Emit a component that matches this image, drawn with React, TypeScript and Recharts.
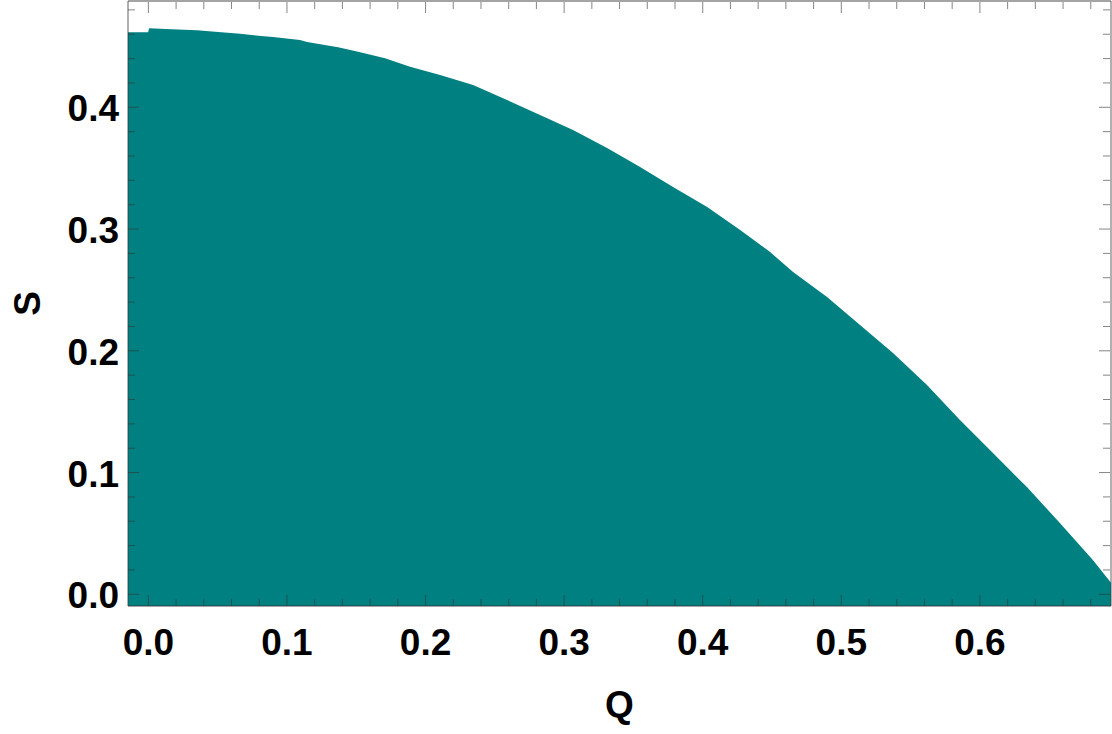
import { AreaChart, Area, XAxis, YAxis } from "recharts";

// upper boundary of the shaded region
const qValues = [
  -0.0147, -0.0002, 0.0005, 0.0164, 0.0351, 0.0481, 0.0662, 0.0791, 0.09, 0.1094, 0.1145,
  0.1369, 0.1513, 0.1708, 0.1888, 0.2105, 0.2343, 0.2588, 0.2826, 0.3064, 0.331, 0.3548,
  0.3786, 0.4032, 0.427, 0.4486, 0.4652, 0.4897, 0.5135, 0.5373, 0.5618, 0.5856, 0.6094,
  0.6339, 0.6577, 0.6815, 0.6946,
];
const sValues = [
  0.4616, 0.4616, 0.4649, 0.4641, 0.4632, 0.4621, 0.4604, 0.4588, 0.4577, 0.4553, 0.4537,
  0.4493, 0.4457, 0.4402, 0.4333, 0.4265, 0.4183, 0.406, 0.3937, 0.3814, 0.3666, 0.351,
  0.3345, 0.3181, 0.2992, 0.2811, 0.2647, 0.2442, 0.2212, 0.1982, 0.1719, 0.1431, 0.116,
  0.0881, 0.0586, 0.0282, 0.0095,
];

const qDomain = [-0.0147, 0.6946];
const sDomain = [-0.0096, 0.4873];

const qMajorTicks = [0, 0.1, 0.2, 0.3, 0.4, 0.5, 0.6];
const qMinorTicks = [
  0.02, 0.04, 0.06, 0.08, 0.12, 0.14, 0.16, 0.18, 0.22, 0.24, 0.26, 0.28, 0.32, 0.34,
  0.36, 0.38, 0.42, 0.44, 0.46, 0.48, 0.52, 0.54, 0.56, 0.58, 0.62, 0.64, 0.66, 0.68,
];
const sMajorTicks = [0, 0.1, 0.2, 0.3, 0.4];
const sMinorTicks = [
  0.02, 0.04, 0.06, 0.08, 0.12, 0.14, 0.16, 0.18, 0.22, 0.24, 0.26, 0.28, 0.32, 0.34,
  0.36, 0.38, 0.42, 0.44, 0.46, 0.48,
];

const data = qValues.map((q, i) => ({ q, s: sValues[i] }));
const qTicks = [...qMajorTicks, ...qMinorTicks].sort((a, b) => a - b);
const sTicks = [...sMajorTicks, ...sMinorTicks].sort((a, b) => a - b);

const FONT = "'Liberation Sans', Arial, Helvetica, sans-serif";
const TEAL = "#008080";
const FRAME = { stroke: "#333", strokeOpacity: 0.6, strokeWidth: 1.3 };

const isMajor = (v: number, majors: number[]) => majors.some((m) => Math.abs(m - v) < 1e-6);

// Mathematica-like frame tick: short line inside the frame, label outside
function FrameTick(props: any) {
  const { x, y, payload, side } = props;
  const v = payload.value as number;
  const horizontal = side === "bottom" || side === "top";
  const major = isMajor(v, horizontal ? qMajorTicks : sMajorTicks);
  const len = major ? 11 : 7;
  let x1 = x;
  let y1 = y;
  // the top / right axes are 1px bands, start the tick on the frame itself
  if (side === "top") y1 = y + 1;
  if (side === "right") x1 = x - 1;
  let x2 = x1;
  let y2 = y1;
  if (side === "bottom") y2 = y1 - len;
  if (side === "top") y2 = y1 + len;
  if (side === "left") x2 = x1 + len;
  if (side === "right") x2 = x1 - len;
  const showLabel = major && (side === "bottom" || side === "left");
  return (
    <g>
      <line x1={x1} y1={y1} x2={x2} y2={y2} stroke="#333" strokeOpacity={0.6} strokeWidth={1} />
      {showLabel && (
        <text
          x={side === "bottom" ? x : x - 9}
          y={side === "bottom" ? y + 49 : y + 14}
          textAnchor={side === "bottom" ? "middle" : "end"}
          fontFamily={FONT}
          fontWeight="bold"
          fontSize={37}
          fill="#000"
        >
          {v.toFixed(1)}
        </text>
      )}
    </g>
  );
}

export default function App() {
  return (
    <div style={{ width: 1112, height: 734 }}>
      <style>{"body{margin:0}"}</style>
      <AreaChart width={1112} height={734} data={data} margin={{ top: 0, right: 0, left: 0, bottom: 0 }}>
        <Area
          type="linear"
          dataKey="s"
          stroke="none"
          fill={TEAL}
          fillOpacity={1}
          baseValue="dataMin"
          dot={false}
          activeDot={false}
          isAnimationActive={false}
        />
        <XAxis
          dataKey="q"
          type="number"
          domain={qDomain}
          allowDataOverflow
          ticks={qTicks}
          interval={0}
          height={128}
          tickSize={0}
          tickMargin={0}
          tickLine={false}
          axisLine={FRAME}
          tick={(p: any) => <FrameTick {...p} side="bottom" />}
          label={({ viewBox }: any) => (
            <text
              x={viewBox.x + viewBox.width / 2}
              y={viewBox.y + 111}
              textAnchor="middle"
              fontFamily={FONT}
              fontWeight="bold"
              fontSize={37}
              fill="#000"
            >
              Q
            </text>
          )}
        />
        <XAxis
          xAxisId="top"
          orientation="top"
          dataKey="q"
          type="number"
          domain={qDomain}
          allowDataOverflow
          ticks={qTicks}
          interval={0}
          height={1}
          tickSize={0}
          tickMargin={0}
          tickLine={false}
          axisLine={FRAME}
          tick={(p: any) => <FrameTick {...p} side="top" />}
        />
        <YAxis
          type="number"
          domain={sDomain}
          allowDataOverflow
          ticks={sTicks}
          interval={0}
          width={128}
          tickSize={0}
          tickMargin={0}
          tickLine={false}
          axisLine={FRAME}
          tick={(p: any) => <FrameTick {...p} side="left" />}
          label={({ viewBox }: any) => {
            const cy = viewBox.y + viewBox.height / 2;
            return (
              <text
                x={40}
                y={cy}
                transform={`rotate(-90, 40, ${cy})`}
                textAnchor="middle"
                fontFamily={FONT}
                fontWeight="bold"
                fontSize={37}
                fill="#000"
              >
                S
              </text>
            );
          }}
        />
        <YAxis
          yAxisId="right"
          orientation="right"
          type="number"
          domain={sDomain}
          allowDataOverflow
          ticks={sTicks}
          interval={0}
          width={1}
          tickSize={0}
          tickMargin={0}
          tickLine={false}
          axisLine={FRAME}
          tick={(p: any) => <FrameTick {...p} side="right" />}
        />
      </AreaChart>
    </div>
  );
}
